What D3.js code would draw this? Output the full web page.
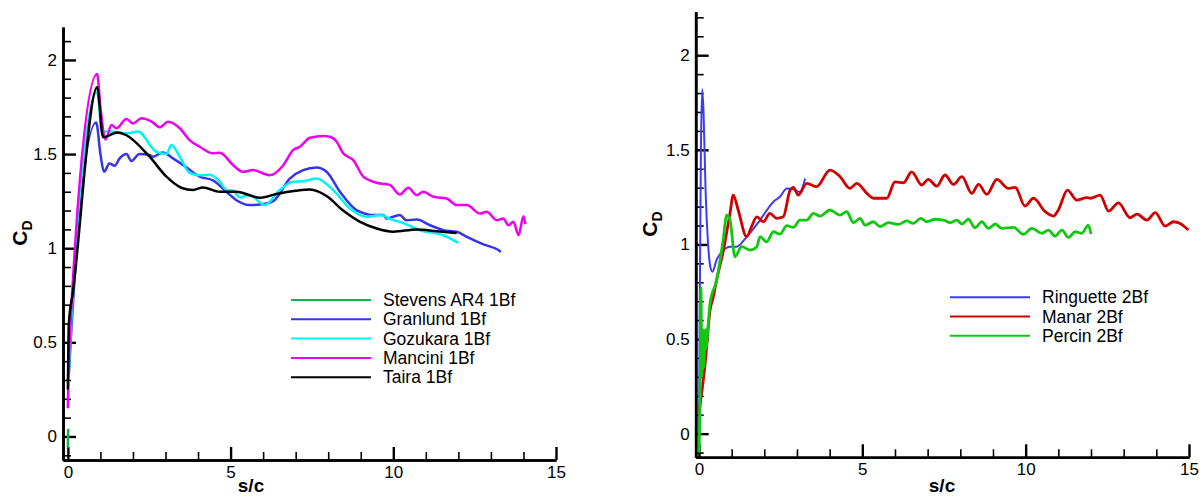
<!DOCTYPE html>
<html>
<head>
<meta charset="utf-8">
<script src="https://cdn.jsdelivr.net/npm/d3@7"></script>
<style>
  body { margin: 0; background: #fff; }
  svg { font-family: "Liberation Sans", Arial, sans-serif; }
</style>
</head>
<body>
<div id="chart"></div>
<script>
// ---- left panel: 1Bf cases ----
const stevensX = [0.0, 0.01];
const stevensY = [-0.06, 0.04];

const granlundX = [0.03, 0.1, 0.87, 1.0, 1.11, 1.28, 1.44, 1.59, 1.8, 1.95, 2.2, 2.51, 2.62, 2.92, 3.23, 3.64, 4.05, 4.46, 4.87, 5.18, 5.59, 5.9, 6.31, 6.82, 7.23, 7.64, 7.95, 8.36, 8.87, 8.98, 9.38, 9.69, 9.8, 10.2, 10.4, 10.72, 11.13, 11.54, 11.95, 12.26, 12.77, 13.23, 13.3];
const granlundY = [0.33, 0.55, 1.668, 1.5, 1.406, 1.45, 1.438, 1.477, 1.50, 1.463, 1.50, 1.495, 1.486, 1.509, 1.477, 1.43, 1.38, 1.36, 1.30, 1.255, 1.229, 1.232, 1.25, 1.37, 1.415, 1.429, 1.406, 1.30, 1.202, 1.193, 1.176, 1.176, 1.158, 1.176, 1.149, 1.152, 1.122, 1.096, 1.087, 1.06, 1.02, 0.99, 0.98];

const gozukaraX = [0.03, 0.1, 0.9, 1.05, 1.3, 1.8, 2.15, 2.72, 3.03, 3.18, 3.44, 3.74, 4.05, 4.36, 4.67, 4.87, 5.08, 5.28, 5.59, 6.05, 6.51, 6.92, 7.23, 7.64, 8.15, 8.67, 9.18, 9.59, 10.0, 10.2, 10.92, 11.54, 12.0];
const gozukaraY = [0.35, 0.6, 1.83, 1.62, 1.62, 1.61, 1.62, 1.512, 1.50, 1.548, 1.486, 1.40, 1.388, 1.39, 1.353, 1.31, 1.305, 1.27, 1.282, 1.229, 1.309, 1.353, 1.356, 1.37, 1.309, 1.211, 1.167, 1.176, 1.149, 1.14, 1.09, 1.069, 1.028];

const manciniX = [0.0, 0.01, 0.08, 0.9, 1.0, 1.16, 1.34, 1.49, 1.8, 2.0, 2.26, 2.62, 2.82, 3.08, 3.44, 3.74, 4.05, 4.46, 4.67, 5.08, 5.38, 5.69, 6.2, 6.62, 6.92, 7.13, 7.44, 7.85, 8.05, 8.26, 8.46, 8.77, 9.08, 9.49, 9.9, 10.2, 10.46, 10.72, 10.92, 11.23, 11.64, 11.95, 12.26, 12.67, 12.87, 13.18, 13.38, 13.54, 13.69, 13.85, 14.0, 14.06];
const manciniY = [0.15, 0.25, 0.6, 1.926, 1.75, 1.578, 1.654, 1.637, 1.686, 1.663, 1.69, 1.667, 1.642, 1.672, 1.637, 1.574, 1.539, 1.504, 1.507, 1.441, 1.406, 1.415, 1.388, 1.441, 1.521, 1.539, 1.587, 1.596, 1.592, 1.566, 1.504, 1.468, 1.38, 1.348, 1.335, 1.285, 1.321, 1.282, 1.30, 1.273, 1.264, 1.229, 1.229, 1.184, 1.193, 1.149, 1.158, 1.122, 1.14, 1.069, 1.17, 1.128];

const tairaX = [0.0, 0.03, 0.15, 0.9, 1.08, 1.53, 1.8, 2.51, 3.03, 3.5, 3.85, 4.15, 4.67, 5.18, 5.9, 6.41, 7.0, 7.44, 7.95, 8.46, 8.98, 9.49, 10.0, 10.72, 11.34, 11.95];
const tairaY = [0.25, 0.6, 0.76, 1.855, 1.59, 1.615, 1.60, 1.486, 1.38, 1.32, 1.309, 1.323, 1.30, 1.30, 1.268, 1.288, 1.305, 1.312, 1.277, 1.20, 1.14, 1.105, 1.088, 1.10, 1.09, 1.081];

// ---- right panel: 2Bf cases ----
const ringuetteX = [0.0, 0.02, 0.06, 0.1, 0.14, 0.2, 0.28, 0.35, 0.41, 0.54, 0.75, 0.95, 1.15, 1.46, 1.87, 2.28, 2.48, 2.69, 2.89, 3.09, 3.25];
const ringuetteY = [-0.09, 0.6, 1.5, 1.82, 1.7, 1.3, 1.0, 0.88, 0.856, 0.918, 0.97, 0.988, 0.988, 1.04, 1.129, 1.226, 1.252, 1.296, 1.291, 1.278, 1.349];

const manarX = [0.0, 0.18, 0.34, 0.44, 0.54, 0.75, 0.95, 1.05, 1.2, 1.46, 1.61, 1.77, 1.97, 2.17, 2.38, 2.58, 2.79, 2.89, 3.04, 3.3, 3.6, 4.01, 4.32, 4.62, 4.83, 5.14, 5.34, 5.75, 6.0, 6.26, 6.51, 6.82, 7.02, 7.28, 7.53, 7.79, 8.05, 8.35, 8.56, 8.81, 9.12, 9.47, 9.68, 9.98, 10.24, 10.6, 10.85, 11.0, 11.28, 11.57, 11.87, 11.98, 12.28, 12.54, 12.84, 13.2, 13.41, 13.71, 13.97, 14.27, 14.53, 14.73, 14.98];
const manarY = [0.11, 0.354, 0.653, 0.724, 0.812, 0.97, 1.164, 1.261, 1.182, 1.041, 1.094, 1.146, 1.12, 1.164, 1.138, 1.146, 1.287, 1.302, 1.261, 1.323, 1.305, 1.393, 1.358, 1.296, 1.323, 1.27, 1.244, 1.244, 1.331, 1.326, 1.384, 1.314, 1.344, 1.308, 1.367, 1.317, 1.358, 1.27, 1.317, 1.265, 1.344, 1.296, 1.302, 1.203, 1.244, 1.173, 1.15, 1.182, 1.287, 1.234, 1.247, 1.244, 1.261, 1.176, 1.22, 1.141, 1.16, 1.129, 1.168, 1.097, 1.12, 1.111, 1.076];

const percinX = [0.0, 0.04, 0.06, 0.09, 0.12, 0.15, 0.19, 0.22, 0.27, 0.34, 0.54, 0.74, 0.85, 0.95, 1.1, 1.31, 1.56, 1.77, 1.87, 2.07, 2.28, 2.48, 2.69, 2.89, 3.09, 3.3, 3.5, 3.71, 4.01, 4.32, 4.52, 4.73, 4.93, 5.08, 5.34, 5.54, 5.8, 6.1, 6.36, 6.56, 6.79, 6.97, 7.23, 7.48, 7.69, 7.89, 8.05, 8.25, 8.45, 8.66, 8.86, 9.07, 9.27, 9.63, 9.93, 10.19, 10.5, 10.7, 10.9, 11.11, 11.31, 11.52, 11.72, 11.92, 12.0];
const percinY = [-0.1, 0.3, 0.77, 0.3, 0.55, 0.35, 0.55, 0.45, 0.55, 0.69, 0.81, 1.023, 1.155, 1.129, 0.935, 0.988, 0.97, 0.988, 1.041, 1.014, 1.067, 1.055, 1.099, 1.09, 1.129, 1.129, 1.164, 1.15, 1.182, 1.155, 1.173, 1.115, 1.138, 1.102, 1.12, 1.094, 1.115, 1.106, 1.124, 1.111, 1.138, 1.12, 1.133, 1.129, 1.115, 1.129, 1.108, 1.133, 1.088, 1.12, 1.085, 1.108, 1.085, 1.09, 1.053, 1.085, 1.059, 1.076, 1.044, 1.076, 1.037, 1.067, 1.059, 1.102, 1.055];

const xMajor = [0, 5, 10, 15];
const yMajor = [0, 0.5, 1, 1.5, 2];

const leftSeries = [
  { name: "Stevens AR4 1Bf", xs: stevensX, ys: stevensY, color: "#14b050", w: 2.5 },
  { name: "Granlund 1Bf", xs: granlundX, ys: granlundY, color: "#3535ee", w: 2.5 },
  { name: "Gozukara 1Bf", xs: gozukaraX, ys: gozukaraY, color: "#00f4f4", w: 2.5 },
  { name: "Mancini 1Bf", xs: manciniX, ys: manciniY, color: "#f000f0", w: 2.5 },
  { name: "Taira 1Bf", xs: tairaX, ys: tairaY, color: "#000000", w: 2.5 }
];
const rightSeries = [
  { name: "Ringuette 2Bf", xs: ringuetteX, ys: ringuetteY, color: "#3c3cf5", w: 2 },
  { name: "Manar 2Bf", xs: manarX, ys: manarY, color: "#d00000", w: 2.8 },
  { name: "Percin 2Bf", xs: percinX, ys: percinY, color: "#10c810", w: 2.8 }
];

const svg = d3.select("#chart").append("svg")
  .attr("width", 1203).attr("height", 497);

function panel(cfg) {
  const x = d3.scaleLinear().domain([cfg.xMin, 15]).range([cfg.left, cfg.right]);
  const y = d3.scaleLinear().domain([-0.125, cfg.yMax]).range([cfg.bottom, cfg.top]);
  const g = svg.append("g");

  // minor ticks
  const xMinor = d3.range(1, 15).filter(v => v % 5 !== 0);
  const yMinor = d3.range(-1, Math.floor(cfg.yMax * 10) + 1).map(v => v / 10).filter(v => Math.round(v * 10) % 5 !== 0);

  g.append("g").attr("transform", `translate(0,${cfg.bottom})`)
    .call(d3.axisBottom(x).tickValues(xMinor).tickSize(-8).tickSizeOuter(0).tickFormat(""));
  g.append("g").attr("transform", `translate(${cfg.left},0)`)
    .call(d3.axisLeft(y).tickValues(yMinor).tickSize(-8).tickSizeOuter(0).tickFormat(""));

  const xa = g.append("g").attr("transform", `translate(0,${cfg.bottom})`)
    .call(d3.axisBottom(x).tickValues(xMajor).tickSize(-13).tickSizeOuter(0).tickPadding(6).tickFormat(d3.format("d")));
  const ya = g.append("g").attr("transform", `translate(${cfg.left},0)`)
    .call(d3.axisLeft(y).tickValues(yMajor).tickSize(-13).tickSizeOuter(0).tickPadding(6).tickFormat(d => String(d)));

  g.selectAll(".domain").attr("stroke", "#000").attr("stroke-width", 2.6);
  g.selectAll(".tick line").attr("stroke", "#000").attr("stroke-width", 1.6);
  xa.selectAll(".tick line").attr("stroke-width", 2.4);
  ya.selectAll(".tick line").attr("stroke-width", 2.4);
  g.selectAll(".tick text").attr("font-size", 17).attr("fill", "#000")
    .attr("font-family", "'Liberation Sans', Arial, sans-serif");

  const line = d3.line().x(d => x(d[0])).y(d => y(d[1])).curve(d3.curveMonotoneX);
  const plot = g.append("g");
  cfg.series.forEach(s => {
    plot.append("path")
      .datum(s.xs.map((v, i) => [v, s.ys[i]]))
      .attr("fill", "none").attr("stroke", s.color)
      .attr("stroke-width", s.w).attr("stroke-linejoin", "round")
      .attr("d", line);
  });

  // axis titles
  g.append("text").attr("x", cfg.xLabelX).attr("y", 492)
    .attr("text-anchor", "middle").attr("font-size", 19).attr("font-weight", "bold")
    .text("s/c");
  const cd = g.append("text")
    .attr("transform", `translate(${cfg.yLabelX},${cfg.yLabelY}) rotate(-90)`)
    .attr("text-anchor", "middle").attr("font-size", 21).attr("font-weight", "bold");
  cd.append("tspan").text("C");
  cd.append("tspan").attr("font-size", 14).attr("dy", 5).text("D");

  // legend
  const lg = g.append("g");
  cfg.series.forEach((s, i) => {
    const yy = cfg.legY + i * cfg.legStep;
    lg.append("line").attr("x1", cfg.legX).attr("x2", cfg.legX + 80)
      .attr("y1", yy).attr("y2", yy).attr("stroke", s.color).attr("stroke-width", 2);
    lg.append("text").attr("x", cfg.legX + 92).attr("y", yy).attr("dy", "0.35em")
      .attr("font-size", 17.5).text(s.name);
  });
}

panel({ series: leftSeries, xMin: -0.15, left: 63, right: 556, top: 27, bottom: 460, yMax: 2.175,
        xLabelX: 251, yLabelX: 27, yLabelY: 233, legX: 291, legY: 300, legStep: 19.3 });
panel({ series: rightSeries, xMin: -0.1, left: 695.7, right: 1189, top: 11.7, bottom: 457.3, yMax: 2.23,
        xLabelX: 942, yLabelX: 657, yLabelY: 224, legX: 950, legY: 297.3, legStep: 19.2 });
</script>
</body>
</html>
